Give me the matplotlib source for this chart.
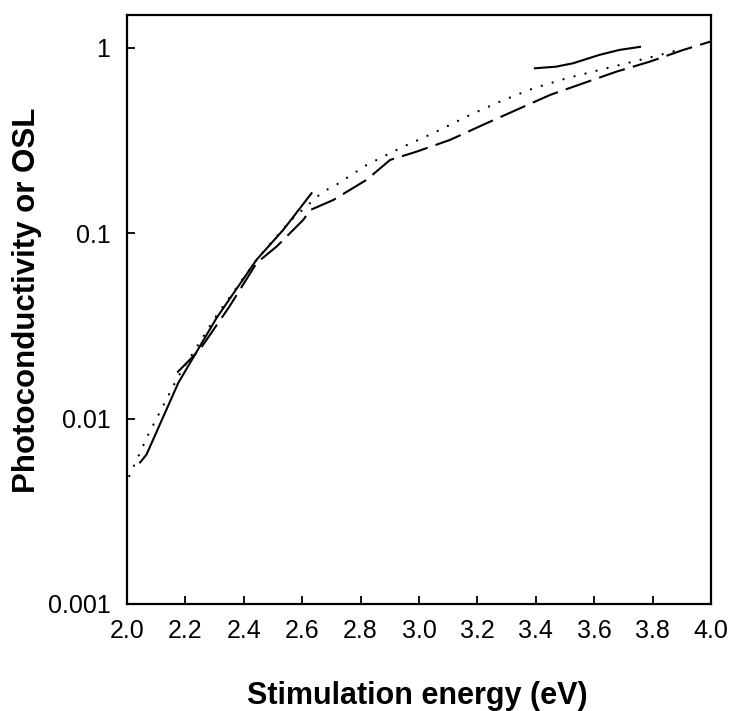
import numpy as np
import matplotlib
import matplotlib.pyplot as plt

matplotlib.use('Agg')
plt.rcParams['font.family'] = ['Liberation Sans', 'DejaVu Sans']

# solid line: photoconductivity, two measured ranges (gap between them)
solid_e = [2.045, 2.067, 2.176, 2.307, 2.444, 2.535, 2.632,
           np.nan,
           3.397, 3.47, 3.528, 3.618, 3.686, 3.757]
solid_v = [0.0058, 0.0064, 0.0156, 0.0349, 0.0719, 0.104, 0.164,
           np.nan,
           0.774, 0.79, 0.824, 0.914, 0.972, 1.01]

# dotted line
dot_e = [2.008, 2.073, 2.176, 2.307, 2.444, 2.558, 2.672, 2.707, 2.821, 2.935,
         3.049, 3.163, 3.277, 3.392, 3.506, 3.620, 3.734, 3.848, 3.900]
dot_v = [0.0049, 0.0082, 0.0169, 0.036, 0.072, 0.116, 0.168, 0.178, 0.233, 0.287,
         0.346, 0.425, 0.512, 0.604, 0.684, 0.759, 0.841, 0.933, 0.985]

# dashed line
dash_e = [2.172, 2.25, 2.35, 2.444, 2.513, 2.604, 2.627, 2.707, 2.821, 2.901,
          2.992, 3.106, 3.220, 3.334, 3.449, 3.563, 3.677, 3.791, 3.905, 4.008]
dash_v = [0.0177, 0.0236, 0.040, 0.069, 0.0848, 0.118, 0.133, 0.151, 0.194, 0.248,
          0.275, 0.318, 0.384, 0.462, 0.556, 0.643, 0.743, 0.841, 0.972, 1.09]

x_ticks = [2.0, 2.2, 2.4, 2.6, 2.8, 3.0, 3.2, 3.4, 3.6, 3.8, 4.0]
y_ticks = [0.001, 0.01, 0.1, 1]
y_labels = ['0.001', '0.01', '0.1', '1']

fig = plt.figure(figsize=(7.31, 7.11), dpi=100)
ax = fig.add_axes([0.1737, 0.1505, 0.7989, 0.8284])

ax.plot(solid_e, solid_v, color='black', lw=1.5, ls='-')
ax.plot(dot_e, dot_v, color='black', lw=1.7, ls=(0, (0.01, 4.8)),
        dash_capstyle='round')
ax.plot(dash_e, dash_v, color='black', lw=1.5, ls=(0, (13, 4)))

ax.set_yscale('log')
ax.set_xlim(2.0, 4.0)
ax.set_ylim(0.001, 1.5)
ax.set_xticks(x_ticks)
ax.set_xticklabels([f'{t:.1f}' for t in x_ticks])
ax.set_yticks(y_ticks)
ax.set_yticklabels(y_labels)
ax.minorticks_off()

ax.tick_params(axis='both', direction='in', length=5.5, width=1.3,
               labelsize=18, color='black')
ax.tick_params(axis='x', pad=11)
ax.tick_params(axis='y', pad=12)
for s in ax.spines.values():
    s.set_linewidth(1.6)

ax.set_xlabel('Stimulation energy (eV)', fontsize=22, fontweight='bold')
ax.set_ylabel('Photoconductivity or OSL', fontsize=22.5, fontweight='bold')
ax.xaxis.set_label_coords(0.497, -0.131)
ax.yaxis.set_label_coords(-0.146, 0.516)

fig.savefig('out.png', dpi=100)
